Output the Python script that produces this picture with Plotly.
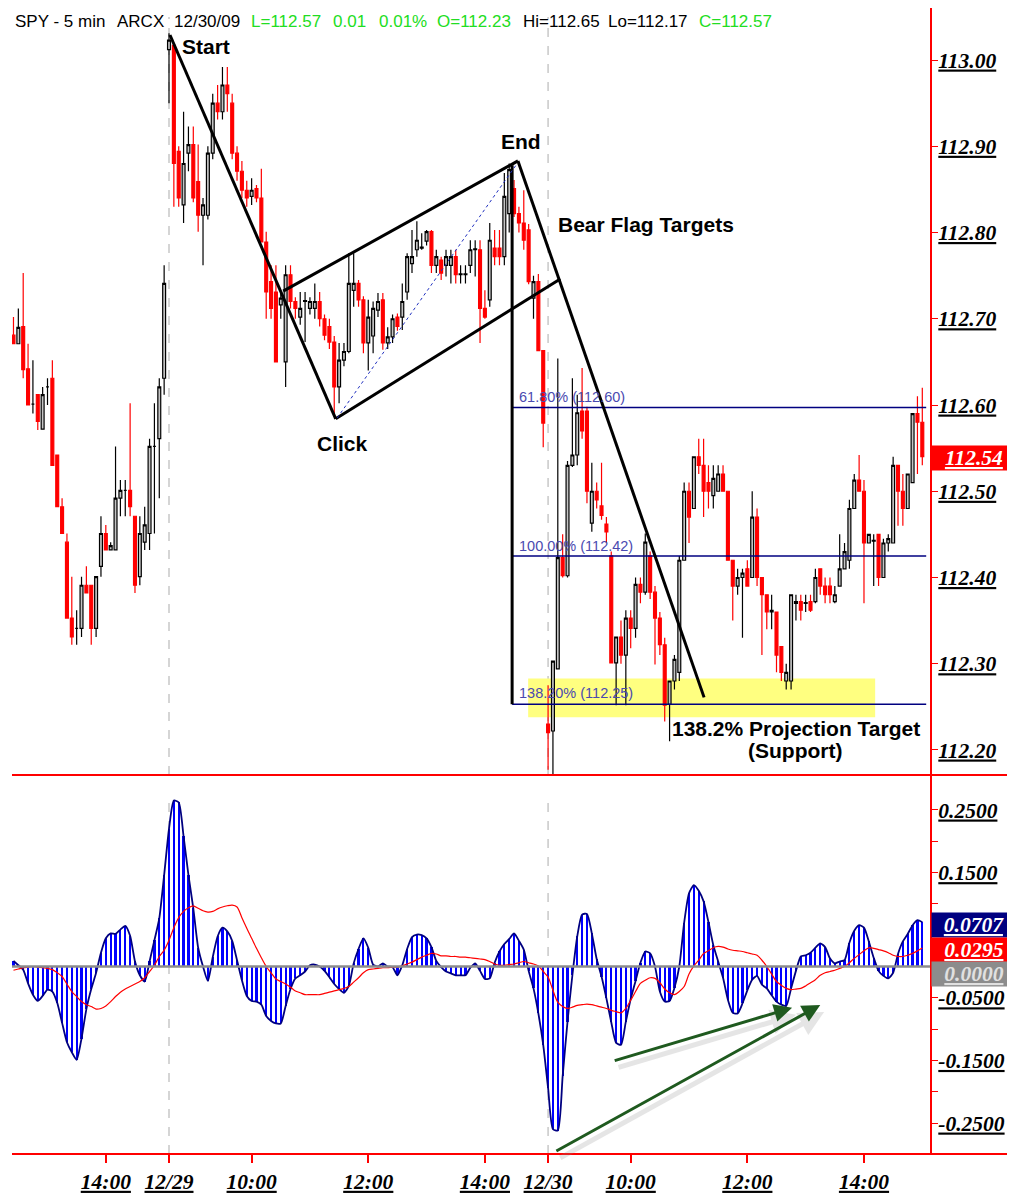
import plotly.graph_objects as go

# ---------------- DATA (SPY 5-min bars, 12/28 afternoon .. 12/30 close, Central time) ----------------
OPEN = [
 112.681,112.671,112.691,112.642,112.601,112.612,112.572,112.621,112.631,112.542,112.482,112.441,112.353,112.341,112.341,112.391,
 112.391,112.341,112.413,112.451,112.432,112.432,112.492,112.501,112.501,112.471,112.401,112.441,112.451,112.552,112.561,112.631,
 113.012,113.017,112.894,112.832,112.892,112.902,112.859,112.820,112.820,112.892,112.950,112.940,112.971,112.950,112.892,112.871,
 112.849,112.842,112.851,112.840,112.789,112.743,112.731,112.716,112.650,112.751,112.720,112.702,112.720,112.712,112.712,112.720,
 112.700,112.691,112.673,112.621,112.652,112.662,112.733,112.741,112.722,112.672,112.680,112.710,112.722,112.672,112.679,112.702,
 112.702,112.731,112.764,112.780,112.782,112.790,112.801,112.762,112.768,112.762,112.762,112.772,112.751,112.751,112.762,112.780,
 112.780,112.712,112.722,112.782,112.782,112.772,112.822,112.851,112.822,112.811,112.803,112.724,112.743,112.663,
 112.230,112.222,112.294,112.423,112.402,112.530,112.542,112.593,112.593,112.463,112.500,112.483,112.462,112.425,112.301,112.331,
 112.310,112.353,112.341,112.392,112.383,112.425,112.383,112.353,112.322,112.253,112.280,112.290,112.420,112.500,112.480,112.540,
 112.530,112.510,112.495,112.500,112.520,112.500,112.420,112.390,112.400,112.410,112.400,112.470,112.400,112.380,112.360,112.360,
 112.320,112.280,112.280,112.370,112.372,112.370,112.372,112.372,112.410,112.390,112.390,112.372,112.390,112.410,112.420,112.480,
 112.513,112.500,112.440,112.442,112.450,112.400,112.440,112.440,112.530,112.500,112.480,112.510,112.590,112.580]
HIGH = [
 112.702,112.712,112.753,112.671,112.652,112.612,112.621,112.631,112.652,112.542,112.492,112.451,112.401,112.362,112.401,112.413,
 112.391,112.401,112.471,112.461,112.441,112.552,112.513,112.513,112.602,112.471,112.471,112.482,112.561,112.602,112.631,112.762,
 113.031,113.020,112.900,112.940,112.923,112.923,112.902,112.840,112.900,112.961,112.971,112.992,112.992,112.961,112.900,112.883,
 112.860,112.863,112.855,112.874,112.801,112.762,112.762,112.730,112.762,112.762,112.725,112.731,112.731,112.725,112.741,112.731,
 112.705,112.700,112.680,112.672,112.672,112.776,112.776,112.745,112.726,112.722,112.720,112.730,112.730,112.690,112.705,112.706,
 112.741,112.776,112.803,112.813,112.799,112.803,112.803,112.780,112.772,112.780,112.780,112.780,112.762,112.762,112.791,112.791,
 112.791,112.733,112.811,112.803,112.803,112.869,112.880,112.861,112.830,112.849,112.810,112.750,112.752,112.663,
 112.275,112.303,112.654,112.450,112.535,112.631,112.612,112.643,112.598,112.533,112.510,112.533,112.470,112.430,112.331,112.350,
 112.362,112.362,112.400,112.400,112.451,112.430,112.390,112.360,112.330,112.280,112.310,112.425,112.510,112.510,112.540,112.561,
 112.561,112.530,112.530,112.530,112.530,112.500,112.420,112.410,112.410,112.420,112.500,112.480,112.400,112.380,112.380,112.360,
 112.320,112.300,112.380,112.380,112.380,112.380,112.380,112.410,112.410,112.400,112.400,112.390,112.450,112.440,112.490,112.520,
 112.542,112.513,112.450,112.450,112.450,112.445,112.450,112.540,112.530,112.520,112.520,112.590,112.610,112.620]
LOW = [
 112.671,112.671,112.631,112.600,112.590,112.571,112.572,112.600,112.530,112.482,112.451,112.353,112.322,112.322,112.331,112.382,
 112.322,112.331,112.401,112.432,112.432,112.432,112.471,112.471,112.471,112.382,112.391,112.432,112.432,112.451,112.492,112.612,
 112.950,112.830,112.830,112.811,112.871,112.835,112.801,112.762,112.815,112.885,112.931,112.931,112.940,112.885,112.860,112.840,
 112.830,112.832,112.835,112.789,112.700,112.700,112.650,112.700,112.621,112.712,112.700,112.693,112.673,112.705,112.700,112.691,
 112.675,112.665,112.587,112.602,112.645,112.660,112.714,112.714,112.660,112.640,112.660,112.702,112.664,112.665,112.672,112.686,
 112.687,112.722,112.753,112.772,112.780,112.785,112.753,112.753,112.745,112.749,112.741,112.741,112.741,112.741,112.753,112.749,
 112.672,112.700,112.714,112.762,112.762,112.762,112.800,112.818,112.800,112.780,112.740,112.700,112.663,112.551,
 112.177,112.168,112.294,112.400,112.400,112.528,112.530,112.561,112.486,112.453,112.480,112.467,112.440,112.301,112.252,112.300,
 112.252,112.318,112.330,112.370,112.380,112.375,112.299,112.310,112.233,112.210,112.270,112.280,112.420,112.440,112.480,112.520,
 112.470,112.480,112.480,112.500,112.500,112.420,112.350,112.380,112.330,112.390,112.400,112.390,112.310,112.340,112.340,112.290,
 112.280,112.270,112.270,112.350,112.350,112.360,112.360,112.370,112.380,112.370,112.370,112.370,112.390,112.410,112.410,112.480,
 112.500,112.370,112.440,112.390,112.390,112.400,112.430,112.440,112.460,112.460,112.480,112.510,112.520,112.530]
CLOSE = [
 112.671,112.690,112.641,112.600,112.601,112.581,112.612,112.621,112.530,112.482,112.451,112.353,112.331,112.341,112.391,112.382,
 112.341,112.401,112.451,112.432,112.437,112.492,112.501,112.501,112.482,112.391,112.451,112.461,112.552,112.552,112.621,112.741,
 113.023,112.880,112.840,112.880,112.902,112.840,112.820,112.832,112.892,112.950,112.940,112.971,112.961,112.892,112.871,112.849,
 112.840,112.849,112.840,112.789,112.731,112.712,112.650,112.724,112.751,112.720,112.712,112.712,112.721,112.720,112.720,112.700,
 112.681,112.673,112.621,112.652,112.662,112.741,112.741,112.722,112.672,112.702,112.712,112.720,112.672,112.679,112.700,112.691,
 112.720,112.772,112.772,112.791,112.783,112.801,112.762,112.772,112.753,112.772,112.772,112.751,112.752,112.752,112.780,112.781,
 112.712,112.702,112.791,112.772,112.772,112.842,112.873,112.822,112.811,112.791,112.743,112.743,112.663,112.579,
 112.220,112.303,112.423,112.402,112.530,112.542,112.591,112.570,112.500,112.500,112.490,112.472,112.453,112.301,112.331,112.310,
 112.353,112.341,112.392,112.383,112.441,112.383,112.353,112.322,112.252,112.280,112.305,112.420,112.500,112.470,112.540,112.530,
 112.500,112.500,112.515,112.520,112.500,112.420,112.390,112.400,112.405,112.390,112.470,112.400,112.380,112.360,112.362,112.310,
 112.290,112.290,112.380,112.372,112.362,112.371,112.362,112.400,112.390,112.380,112.380,112.380,112.410,112.430,112.480,112.513,
 112.500,112.440,112.450,112.443,112.400,112.440,112.445,112.530,112.500,112.480,112.520,112.590,112.580,112.540]

MACD_HIST = [
 0.009,0.002,-0.005,-0.027,-0.045,-0.055,-0.047,-0.037,-0.040,-0.058,-0.090,-0.121,-0.137,-0.149,-0.115,-0.068,
 -0.036,-0.010,0.022,0.045,0.053,0.052,0.059,0.065,0.049,0.008,-0.014,-0.024,0.008,0.042,0.077,0.146,
 0.220,0.265,0.262,0.208,0.146,0.093,0.030,0.000,-0.023,0.015,0.048,0.062,0.056,0.041,0.010,-0.022,
 -0.047,-0.055,-0.056,-0.061,-0.079,-0.087,-0.091,-0.091,-0.063,-0.036,-0.019,-0.014,-0.008,0.002,0.003,0.000,
 -0.007,-0.017,-0.028,-0.036,-0.042,-0.031,0.005,0.028,0.045,0.030,0.003,0.000,0.005,0.000,-0.001,-0.014,
 0.002,0.028,0.047,0.051,0.050,0.045,0.031,0.009,-0.001,-0.008,-0.011,-0.014,-0.014,-0.014,-0.002,0.005,
 -0.007,-0.020,-0.019,0.006,0.024,0.036,0.044,0.053,0.041,0.027,-0.007,-0.035,-0.075,-0.125,
 -0.194,-0.260,-0.262,-0.175,-0.088,-0.014,0.048,0.083,0.084,0.053,0.012,-0.016,-0.051,-0.089,-0.122,-0.125,
 -0.088,-0.052,-0.023,0.006,0.024,0.021,0.000,-0.040,-0.056,-0.055,-0.034,0.000,0.070,0.117,0.130,0.121,
 0.104,0.071,0.034,0.008,-0.018,-0.053,-0.074,-0.075,-0.059,-0.038,-0.021,-0.015,-0.029,-0.035,-0.046,-0.056,
 -0.061,-0.063,-0.035,-0.007,0.016,0.018,0.022,0.030,0.037,0.031,0.013,0.005,0.008,0.010,0.038,0.057,
 0.066,0.062,0.040,0.014,-0.007,-0.015,-0.019,-0.010,0.020,0.040,0.052,0.066,0.074,0.0707]
MACD_SIGNAL = [
 -0.006,-0.004,-0.002,-0.001,0.000,-0.001,-0.002,-0.003,-0.005,-0.010,-0.016,-0.028,-0.040,-0.048,-0.056,-0.061,
 -0.064,-0.068,-0.067,-0.063,-0.056,-0.048,-0.041,-0.036,-0.032,-0.028,-0.024,-0.018,-0.008,0.002,0.016,0.026,
 0.042,0.062,0.078,0.088,0.094,0.097,0.093,0.089,0.087,0.088,0.092,0.095,0.097,0.098,0.095,0.078,
 0.061,0.045,0.029,0.014,0.000,-0.010,-0.020,-0.024,-0.028,-0.033,-0.039,-0.042,-0.045,-0.045,-0.045,-0.045,
 -0.043,-0.041,-0.039,-0.037,-0.035,-0.032,-0.025,-0.018,-0.010,-0.005,-0.004,-0.003,-0.002,-0.002,-0.001,-0.001,
 0.001,0.004,0.007,0.011,0.015,0.018,0.021,0.020,0.017,0.017,0.016,0.016,0.015,0.015,0.014,0.013,
 0.012,0.011,0.008,0.004,0.002,0.002,0.003,0.004,0.006,0.008,0.006,0.004,0.001,-0.008,
 -0.017,-0.038,-0.057,-0.064,-0.067,-0.065,-0.062,-0.061,-0.060,-0.061,-0.063,-0.065,-0.067,-0.070,-0.072,-0.074,
 -0.067,-0.054,-0.040,-0.027,-0.022,-0.018,-0.019,-0.026,-0.036,-0.042,-0.045,-0.040,-0.032,-0.012,0.001,0.010,
 0.021,0.025,0.030,0.032,0.031,0.028,0.026,0.025,0.024,0.022,0.020,0.018,0.010,0.000,-0.012,-0.024,
 -0.030,-0.035,-0.037,-0.036,-0.035,-0.031,-0.026,-0.021,-0.014,-0.010,-0.008,-0.006,-0.003,0.000,0.006,0.013,
 0.019,0.025,0.030,0.029,0.027,0.025,0.022,0.018,0.016,0.016,0.018,0.021,0.025,0.0295]

FIRST_BAR = -32                     # bar index of first bar (12/28 12:20 CT); 12/29 open = 0
TIME_TICK_BARS = [-13, 0, 17, 41, 65, 78, 95, 119, 143]
TIME_TICK_LABELS = ["14:00", "12/29", "10:00", "12:00", "14:00", "12/30", "10:00", "12:00", "14:00"]
PRICE_TICKS = [112.2, 112.3, 112.4, 112.5, 112.6, 112.7, 112.8, 112.9, 113.0]
MACD_LABEL_TICKS = [-0.25, -0.15, -0.05, 0.15, 0.25]
MACD_MINOR_TICKS = [-0.2, -0.1, 0.0, 0.05, 0.1, 0.2]
FIB_LEVELS = [("61.80%", 112.597, "112.60"), ("100.00%", 112.425, "112.42"), ("138.20%", 112.253, "112.25")]
SESSION_STARTS = [0, 78]
HEADER = [("SPY - 5 min", "black"), ("ARCX", "black"), ("12/30/09", "black"), ("L=112.57", "#22dd22"),
          ("0.01", "#22dd22"), ("0.01%", "#22dd22"), ("O=112.23", "#22dd22"), ("Hi=112.65", "black"),
          ("Lo=112.17", "black"), ("C=112.57", "#22dd22")]

# ---------------- FIGURE ----------------
bars = list(range(FIRST_BAR, FIRST_BAR + len(CLOSE)))
RED = "#ff0000"
OFF = 8                                  # page body margin
W, H = 1015 - OFF, 1195 - OFF
PL, PR, PT, PB = 12, 930, 8, 1154        # plot area in page pixels
ML, MR, MT, MB = PL - OFF, 1015 - PR, PT - OFF, 1195 - PB
PW, PH = PR - PL, PB - PT

def px(ax):
    return (ax - PL) / PW

def py(ay):
    return (PB - ay) / PH

split_top = py(775)
split_bot = py(776)

fig = go.Figure()
fig.add_trace(go.Candlestick(
    x=bars, open=OPEN, high=HIGH, low=LOW, close=CLOSE, xaxis="x", yaxis="y",
    increasing=dict(line=dict(color="black", width=1.2), fillcolor="#c4c4c4"),
    decreasing=dict(line=dict(color=RED, width=1.2), fillcolor=RED),
    whiskerwidth=0, hoverinfo="skip", showlegend=False))

fig.add_trace(go.Bar(x=bars, y=MACD_HIST, xaxis="x2", yaxis="y2", width=0.45,
                     marker=dict(color="#0000ff", line=dict(width=0)), showlegend=False, hoverinfo="skip"))
fig.add_trace(go.Scatter(x=bars, y=MACD_HIST, xaxis="x2", yaxis="y2", mode="lines",
                         line=dict(color="#000080", width=1.8, shape="spline", smoothing=0.6),
                         showlegend=False, hoverinfo="skip"))
fig.add_trace(go.Scatter(x=bars, y=MACD_SIGNAL, xaxis="x2", yaxis="y2", mode="lines",
                         line=dict(color=RED, width=1.2, shape="spline", smoothing=0.8),
                         showlegend=False, hoverinfo="skip"))

xr = [(PL - 169) / 4.86, (PR - 169) / 4.86]
axfont = dict(family="Liberation Serif", size=21.5, color="black", weight="bold", style="italic", lineposition="under")

fig.update_layout(
    width=W, height=H, margin=dict(l=ML, r=MR, t=MT, b=MB, pad=0),
    paper_bgcolor="white", plot_bgcolor="white", showlegend=False, bargap=0, boxgap=0.15,
    xaxis=dict(domain=[0, 1], anchor="y", range=xr, showgrid=False, zeroline=False,
               showticklabels=False, ticks="", showline=False,
               rangeslider=dict(visible=False), fixedrange=True),
    xaxis2=dict(domain=[0, 1], anchor="y2", matches="x", range=xr, showgrid=False, zeroline=False,
                tickmode="array", tickvals=TIME_TICK_BARS, ticktext=TIME_TICK_LABELS,
                ticks="outside", ticklen=8, tickcolor=RED, tickwidth=2, tickfont=axfont,
                showline=False),
    yaxis=dict(domain=[split_top, 1], anchor="x", side="right", range=[112.171, 113.0603],
               showgrid=False, zeroline=False, tickmode="array", tickvals=PRICE_TICKS,
               ticktext=[f"{v:.2f}" for v in PRICE_TICKS], ticks="outside", ticklen=6,
               tickcolor=RED, tickfont=axfont, ticklabelstandoff=-4,
               showline=True, linecolor=RED, linewidth=2),
    yaxis2=dict(domain=[0, split_bot], anchor="x2", side="right", range=[-0.2995, 0.3043],
                showgrid=False, zeroline=False, tickmode="array", tickvals=MACD_LABEL_TICKS,
                ticktext=[f"{v:.4f}" for v in MACD_LABEL_TICKS], ticks="outside", ticklen=6,
                tickcolor=RED, tickfont=axfont, ticklabelstandoff=-4,
                showline=True, linecolor=RED, linewidth=2,
                minor=dict(tickmode="array", tickvals=MACD_MINOR_TICKS, ticks="outside", ticklen=6, tickcolor=RED)),
)

shapes = []
# session separators
for s in SESSION_STARTS:
    shapes.append(dict(type="line", xref="x", yref="y", x0=s, x1=s, y0=112.171, y1=113.05,
                       line=dict(color="#c8c8c8", width=1.5, dash="dash"), layer="below"))
    shapes.append(dict(type="line", xref="x2", yref="y2", x0=s, x1=s, y0=-0.2995, y1=0.266,
                       line=dict(color="#c8c8c8", width=1.5, dash="dash"), layer="below"))
# zero line
shapes.append(dict(type="line", xref="paper", yref="y2", x0=0, x1=1, y0=0, y1=0,
                   line=dict(color="#8c8c8c", width=2.5), layer="above"))
# red horizontal separators extending into the axis column
for yp in [py(775), py(1154)]:
    shapes.append(dict(type="line", xref="paper", yref="paper", x0=0, x1=px(1015), y0=yp, y1=yp,
                       line=dict(color=RED, width=2)))
# yellow support zone
shapes.append(dict(type="rect", xref="x", yref="y", x0=73.9, x1=145.3, y0=112.238, y1=112.283,
                   fillcolor="#ffff80", line=dict(width=0), layer="below"))
# fib projection lines
for name, lvl, txt in FIB_LEVELS:
    shapes.append(dict(type="line", xref="x", yref="y", x0=70.6, x1=155.8, y0=lvl, y1=lvl,
                       line=dict(color="#000080", width=1.5)))
# vertical flag-pole projection line
shapes.append(dict(type="line", xref="x", yref="y", x0=70.6, x1=70.6, y0=112.253, y1=112.878,
                   line=dict(color="black", width=3)))

def seg(x0, y0, x1, y1, color="black", width=3, dash=None):
    d = dict(color=color, width=width)
    if dash:
        d["dash"] = dash
    shapes.append(dict(type="line", xref="x", yref="y", x0=x0, y0=y0, x1=x1, y1=y1, line=d))

seg(0.2, 113.029, 34.3, 112.584)        # Start -> Click
seg(23.5, 112.732, 71.8, 112.883)       # upper flag
seg(34.3, 112.584, 80.5, 112.746)       # lower flag
seg(71.8, 112.883, 110.1, 112.261)      # End -> target
seg(34.6, 112.585, 71.4, 112.878, color="#2030c0", width=1, dash="dot")  # Click -> End
fig.update_layout(shapes=shapes)

ann = []
lab = dict(family="Liberation Sans", size=21, color="black", weight="bold")
ann.append(dict(x=2.3, y=113.016, xref="x", yref="y", text="Start", showarrow=False, xanchor="left", font=lab))
ann.append(dict(x=35.8, y=112.555, xref="x", yref="y", text="Click", showarrow=False, font=lab))
ann.append(dict(x=72.4, y=112.905, xref="x", yref="y", text="End", showarrow=False, font=lab))
ann.append(dict(x=79.6, y=112.809, xref="x", yref="y", text="Bear Flag Targets", showarrow=False,
                xanchor="left", font=lab))
ann.append(dict(x=103.0, y=112.2245, xref="x", yref="y", text="138.2% Projection Target", showarrow=False,
                xanchor="left", font=lab))
ann.append(dict(x=128.8, y=112.1995, xref="x", yref="y", text="(Support)", showarrow=False, font=lab))
fibfont = dict(family="Liberation Sans", size=14.5, color="#4a4ab0")
for (name, lvl, txt), yoff in zip(FIB_LEVELS, [0.012, 0.012, 0.013]):
    ann.append(dict(x=71.6, y=lvl + yoff, xref="x", yref="y", text=f"{name} ({txt})", showarrow=False,
                    xanchor="left", font=fibfont))
# header
hx = [13, 115, 172, 249, 331, 377, 435, 521, 606, 697]
for (t, c), x in zip(HEADER, hx):
    ann.append(dict(x=px(x), y=py(22), xref="paper", yref="paper", xanchor="left", yanchor="middle",
                    text=t, showarrow=False, font=dict(family="Liberation Sans", size=17, color=c)))
# value boxes
boxfont = dict(family="Liberation Serif", size=21.5, color="white", weight="bold", style="italic", lineposition="under")

def box(ay, text, bg, fc="white"):
    f = dict(boxfont)
    f["color"] = fc
    ann.append(dict(x=px(931), y=py(ay), xref="paper", yref="paper", xanchor="left", yanchor="middle", text=text,
                    showarrow=False, bgcolor=bg, font=f, width=84, height=24, borderpad=0, align="center"))

box(458, f"{CLOSE[-1]:.2f}", RED)
box(925, f"{MACD_HIST[-1]:.4f}", "#000080")
box(950, f"{MACD_SIGNAL[-1]:.4f}", RED)
box(974, "0.0000", "#8c8c8c", "#e0e0e0")
# divergence arrows with soft shadow
for (tx, ty, hx_, hy) in [(91.4, -0.151, 128.2, -0.066), (79.4, -0.296, 134.0, -0.0615)]:
    ann.append(dict(x=hx_ + 0.8, y=hy - 0.011, ax=tx + 0.8, ay=ty - 0.011, xref="x2", yref="y2", axref="x2",
                    ayref="y2", showarrow=True, arrowhead=2, arrowsize=1.0, arrowwidth=5,
                    arrowcolor="rgba(140,140,140,0.22)", text=""))
    ann.append(dict(x=hx_, y=hy, ax=tx, ay=ty, xref="x2", yref="y2", axref="x2", ayref="y2",
                    showarrow=True, arrowhead=2, arrowsize=1.2, arrowwidth=3, arrowcolor="#1f5a1f", text=""))
fig.update_layout(annotations=ann)

fig.write_html("out.html")
